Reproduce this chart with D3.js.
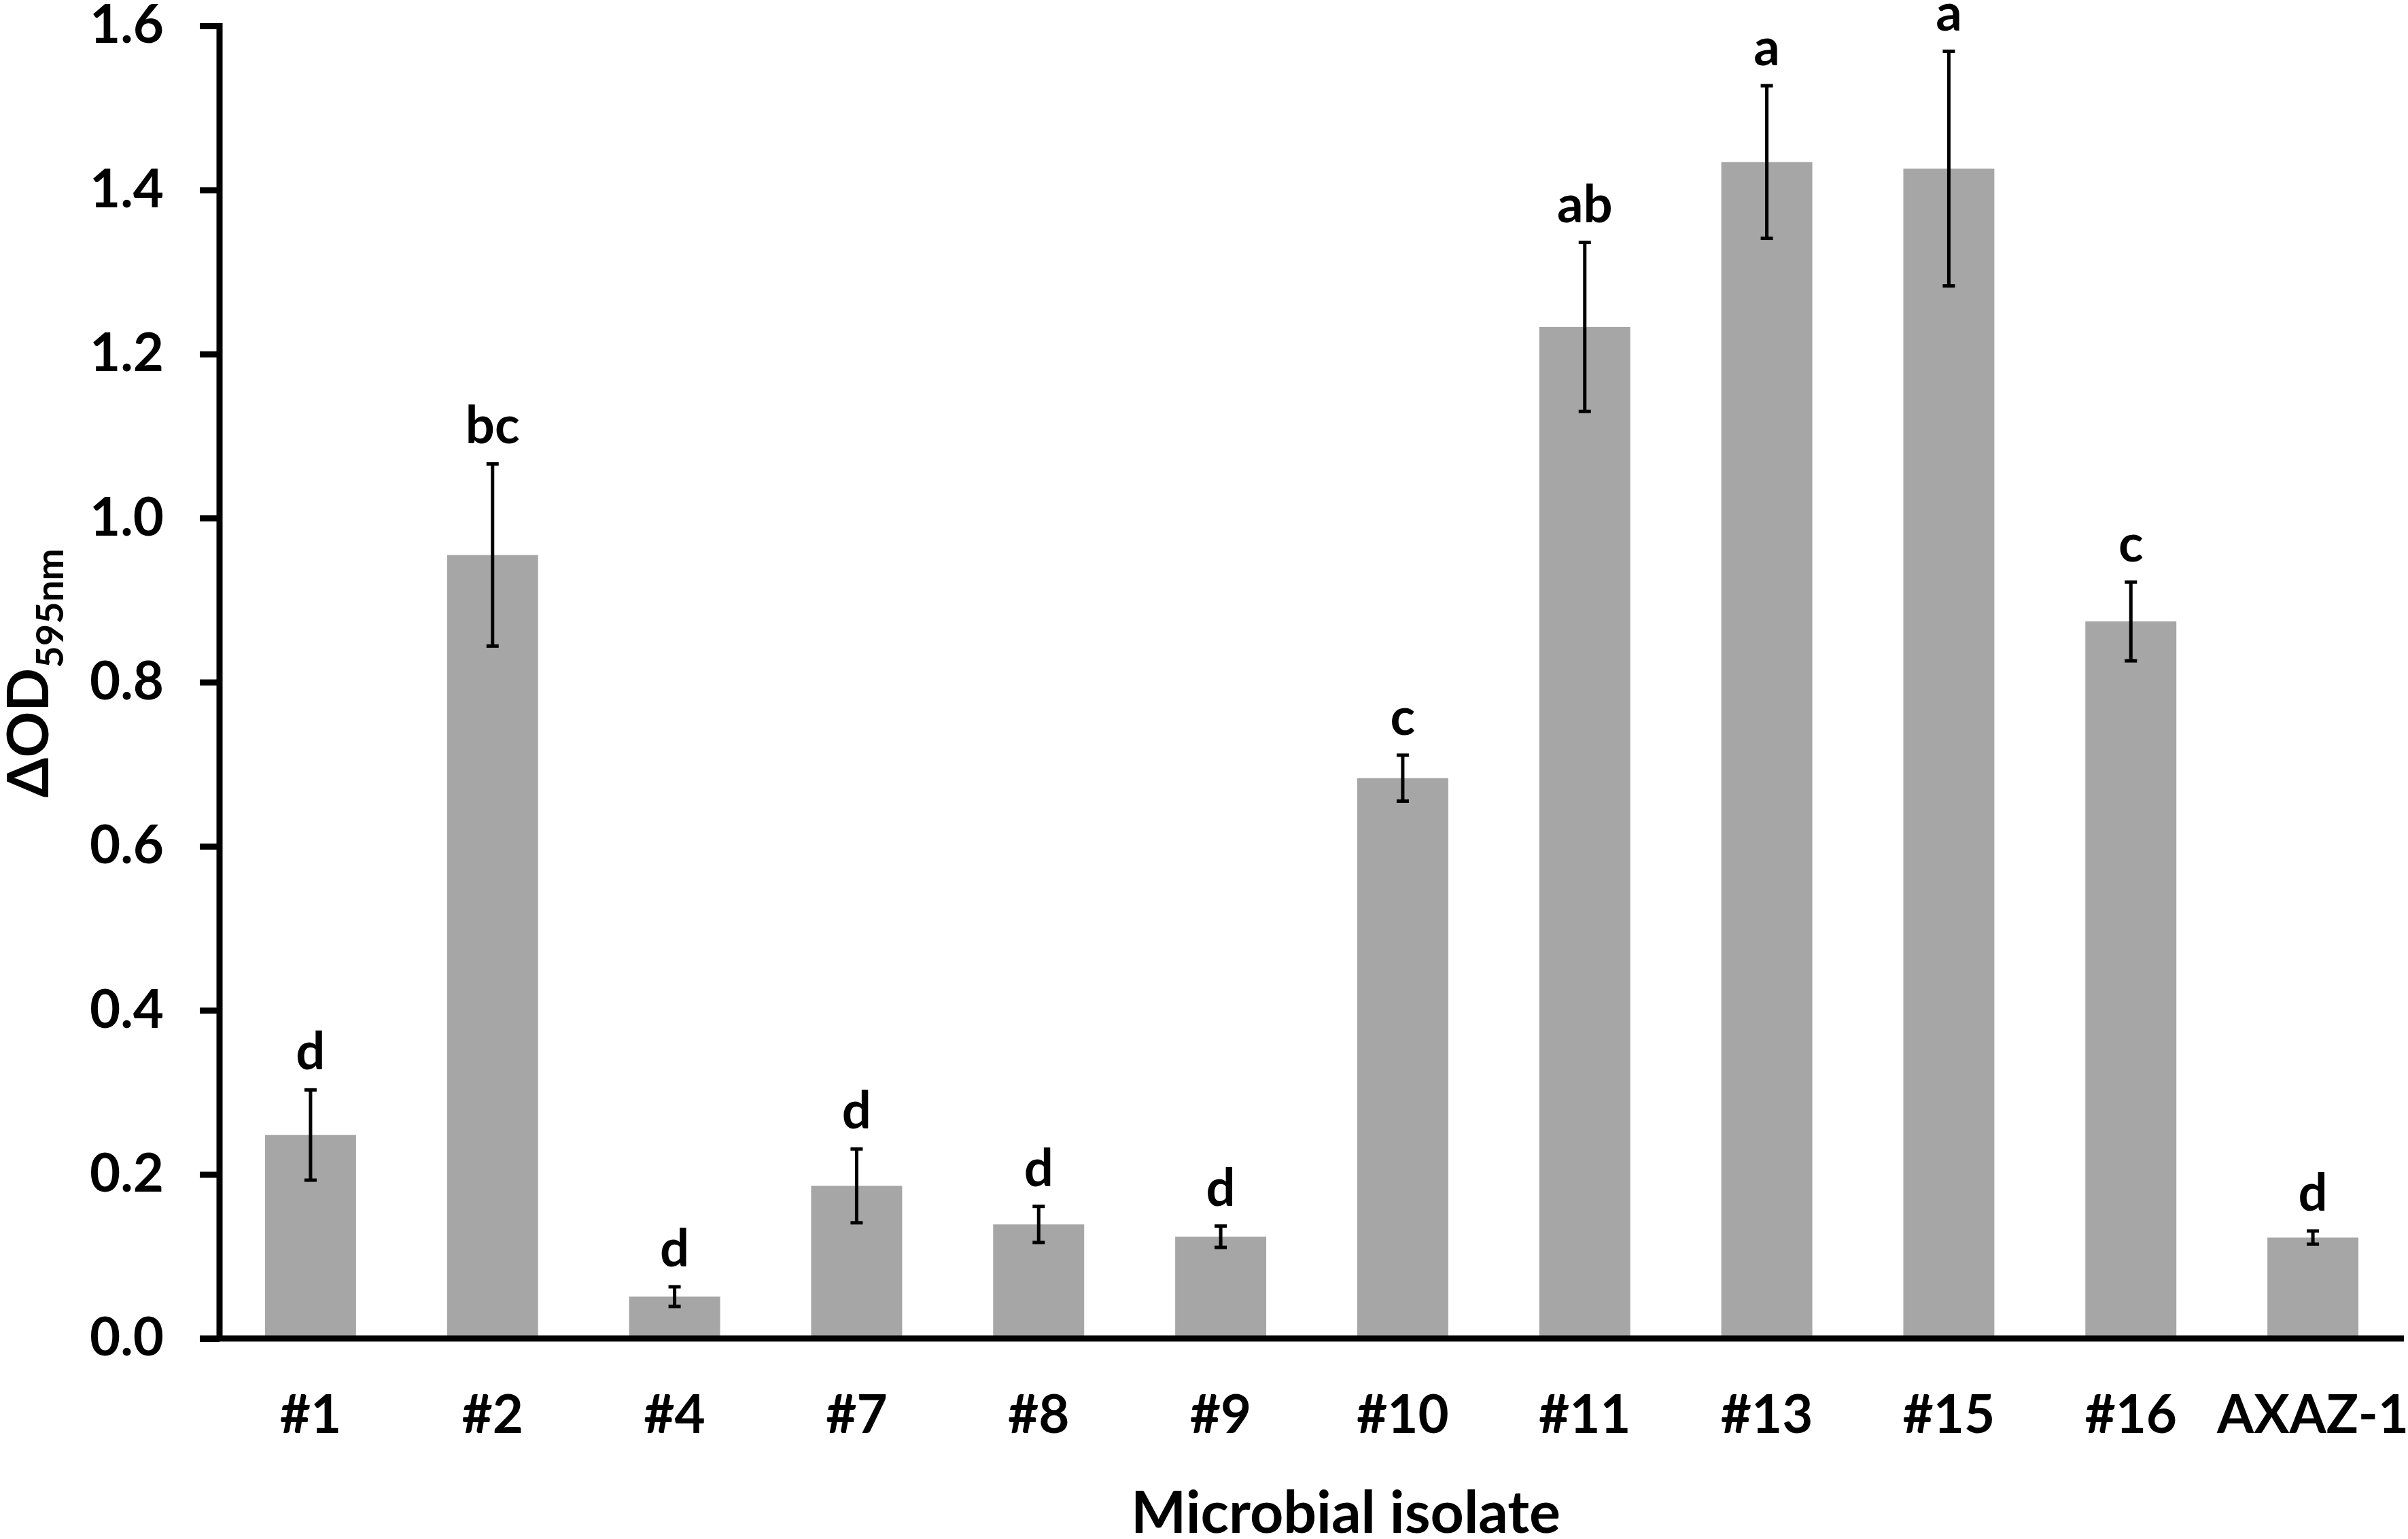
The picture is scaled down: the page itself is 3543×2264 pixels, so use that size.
<!DOCTYPE html>
<html>
<head>
<meta charset="utf-8">
<script src="https://cdn.jsdelivr.net/npm/d3@7"></script>
<style>
  body { margin: 0; background: #fff; }
  text { font-family: "Lato", "Open Sans", sans-serif; font-weight: bold; fill: #000; }
</style>
</head>
<body>
<script>
// isolates and measured values
var categories = ["#1", "#2", "#4", "#7", "#8", "#9", "#10", "#11", "#13", "#15", "#16", "AXAZ-1"];
var means = [0.248, 0.955, 0.051, 0.186, 0.139, 0.124, 0.683, 1.233, 1.434, 1.426, 0.874, 0.123];
var errors = [0.055, 0.111, 0.012, 0.045, 0.022, 0.013, 0.028, 0.103, 0.093, 0.143, 0.048, 0.008];
var letters = ["d", "bc", "d", "d", "d", "d", "c", "ab", "a", "a", "c", "d"];
var yTicks = [0, 0.2, 0.4, 0.6, 0.8, 1.0, 1.2, 1.4, 1.6];

var svg_width = 3543, svg_height = 2264;
var plotLeft = 323, plotRight = 3537, plotTop = 38, plotBottom = 1969;

var svg = d3.select("body")
  .append("svg")
  .attr("width", svg_width)
  .attr("height", svg_height);

var x = d3.scaleBand()
  .domain(categories)
  .range([plotLeft, plotRight])
  .paddingInner(0.5)
  .paddingOuter(0.25);

var y = d3.scaleLinear()
  .domain([0, 1.6])
  .range([plotBottom, plotTop]);

var rows = categories.map(function(c, i) {
  return {name: c, mean: means[i], err: errors[i], letter: letters[i]};
});

// bars
svg.selectAll("rect.bar")
  .data(rows)
  .enter()
  .append("rect")
  .attr("class", "bar")
  .attr("x", function(d) { return x(d.name); })
  .attr("y", function(d) { return y(d.mean); })
  .attr("width", x.bandwidth())
  .attr("height", function(d) { return y(0) - y(d.mean); })
  .attr("fill", "#a6a6a6");

// error bars
var eb = svg.selectAll("g.err")
  .data(rows)
  .enter()
  .append("g")
  .attr("class", "err")
  .attr("stroke", "#000")
  .attr("stroke-width", 5);

var cx = function(d) { return x(d.name) + x.bandwidth() / 2; };
var capW = 9;

eb.append("line")
  .attr("x1", cx).attr("x2", cx)
  .attr("y1", function(d) { return y(d.mean + d.err); })
  .attr("y2", function(d) { return y(d.mean - d.err); });
eb.append("line")
  .attr("x1", function(d) { return cx(d) - capW; })
  .attr("x2", function(d) { return cx(d) + capW; })
  .attr("y1", function(d) { return y(d.mean + d.err); })
  .attr("y2", function(d) { return y(d.mean + d.err); });
eb.append("line")
  .attr("x1", function(d) { return cx(d) - capW; })
  .attr("x2", function(d) { return cx(d) + capW; })
  .attr("y1", function(d) { return y(d.mean - d.err); })
  .attr("y2", function(d) { return y(d.mean - d.err); });

// significance letters
svg.selectAll("text.letter")
  .data(rows)
  .enter()
  .append("text")
  .attr("class", "letter")
  .attr("x", cx)
  .attr("y", function(d) { return y(d.mean + d.err) - 30; })
  .attr("text-anchor", "middle")
  .attr("font-size", 76)
  .text(function(d) { return d.letter; });

// y axis
var yAxis = d3.axisLeft(y)
  .tickValues(yTicks)
  .tickFormat(d3.format(".1f"))
  .tickSize(29)
  .tickSizeOuter(0)
  .tickPadding(53);

var gy = svg.append("g")
  .attr("transform", "translate(" + plotLeft + ",0)")
  .call(yAxis);
gy.selectAll("path, line").attr("stroke", "#000").attr("stroke-width", 9);
gy.select(".domain").attr("d", "M0," + (plotTop - 4) + "V" + plotBottom);
gy.selectAll("text")
  .attr("font-size", 78)
  .attr("font-family", null)
  .attr("fill", "#000");

// x axis
var xAxis = d3.axisBottom(x)
  .tickSize(0)
  .tickSizeOuter(0);

var gx = svg.append("g")
  .attr("transform", "translate(0," + plotBottom + ")")
  .call(xAxis);
gx.select(".domain").attr("stroke", "#000").attr("stroke-width", 9)
  .attr("d", "M" + (plotLeft - 29) + ",0H" + plotRight);
gx.selectAll("text")
  .attr("dy", null)
  .attr("y", 139)
  .attr("font-size", 78)
  .attr("font-family", null)
  .attr("fill", "#000");

// axis titles
svg.append("text")
  .attr("x", 1980)
  .attr("y", 2255)
  .attr("text-anchor", "middle")
  .attr("font-size", 86)
  .text("Microbial isolate");

var yt = svg.append("text")
  .attr("transform", "translate(71,990) rotate(-90)")
  .attr("text-anchor", "middle")
  .attr("font-size", 84);
yt.append("tspan").text("ΔOD");
yt.append("tspan")
  .attr("font-size", 56)
  .attr("dy", 22)
  .text("595nm");
</script>
</body>
</html>
